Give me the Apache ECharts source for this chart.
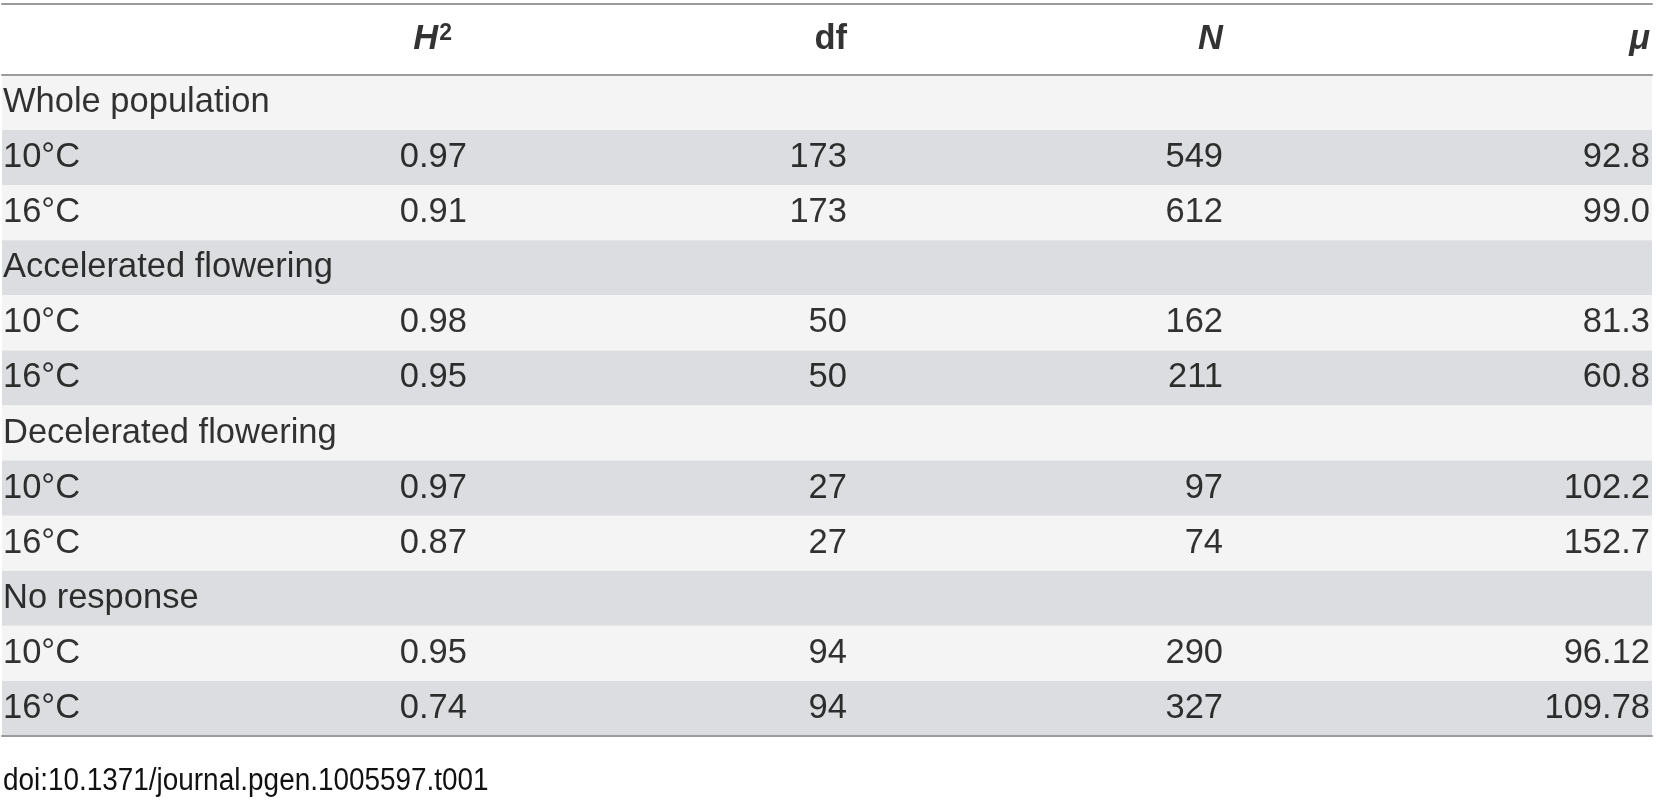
<!DOCTYPE html>
<html><head><meta charset="utf-8">
<script src="https://cdn.jsdelivr.net/npm/echarts@6/dist/echarts.min.js"></script>
<style>html,body{margin:0;padding:0;background:#fff}#c{width:1656px;height:800px}</style>
</head><body><div id="c"></div>
<script>
// ---- data ----
const rowLabels = ['Whole population','10°C','16°C','Accelerated flowering','10°C','16°C','Decelerated flowering','10°C','16°C','No response','10°C','16°C'];
const h2Values = ['', '0.97', '0.91', '', '0.98', '0.95', '', '0.97', '0.87', '', '0.95', '0.74'];
const dfValues = ['', '173', '173', '', '50', '50', '', '27', '27', '', '94', '94'];
const nValues  = ['', '549', '612', '', '162', '211', '', '97', '74', '', '290', '327'];
const muValues = ['', '92.8', '99.0', '', '81.3', '60.8', '', '102.2', '152.7', '', '96.12', '109.78'];
const headers = ['', '{it|H}{sup|2}', '{b|df}', '{it|N}', '{it|μ}'];
const caption = 'doi:10.1371/journal.pgen.1005597.t001';

// ---- layout (percent of table width) ----
const colAnchor = [0.06, 28.18, 51.21, 74.0, 99.88];
const headAnchor = [0.06, 27.27, 51.21, 74.0, 99.88];
const FONT = '"Liberation Sans", Arial, Helvetica, sans-serif';
const FS = 34.5;
const TXT = '#000';

const columns = [rowLabels, h2Values, dfValues, nValues, muValues];
const rowIdx = rowLabels.map((_, i) => i);

const series = [];
columns.forEach((col, c) => {
  series.push({
    type: 'scatter', xAxisIndex: 1, yAxisIndex: 1, symbolSize: 0, silent: true,
    data: col.map((t, i) => [colAnchor[c], i, t]).filter(d => d[2] !== ''),
    label: {
      show: true, position: c === 0 ? 'right' : 'left', distance: 0,
      formatter: p => p.data[2],
      fontFamily: FONT, fontSize: FS, color: TXT
    }
  });
});
headers.forEach((h, c) => {
  if (!h) return;
  series.push({
    type: 'scatter', xAxisIndex: 0, yAxisIndex: 0, symbolSize: 0, silent: true,
    data: [[headAnchor[c], 0, h]],
    label: {
      show: true, position: 'left', distance: 0,
      formatter: p => p.data[2],
      rich: {
        it: { fontFamily: FONT, fontSize: FS, fontWeight: 'bold', fontStyle: 'italic', color: TXT },
        b: { fontFamily: FONT, fontSize: FS, fontWeight: 'bold', color: TXT },
        sup: { fontFamily: FONT, fontSize: 23, fontWeight: 'bold', color: TXT, verticalAlign: 'top', padding: [0, 0, 6, 1] }
      }
    }
  });
});

const lineStyle = { color: '#9b9b9b', width: 2 };
const hiddenX = { show: false };
const option = {
  animation: false,
  grid: [
    { left: 2, right: 4, top: 4, height: 71 },
    { left: 2, right: 4, top: 75, bottom: 64 }
  ],
  xAxis: [
    { gridIndex: 0, type: 'value', min: 0, max: 100, position: 'top',
      axisLine: { show: true, lineStyle }, axisTick: hiddenX, axisLabel: hiddenX, splitLine: hiddenX },
    { gridIndex: 1, type: 'value', min: 0, max: 100, position: 'top',
      axisLine: { show: true, lineStyle }, axisTick: hiddenX, axisLabel: hiddenX, splitLine: hiddenX },
    { gridIndex: 1, type: 'value', min: 0, max: 100, position: 'bottom',
      axisLine: { show: true, lineStyle }, axisTick: hiddenX, axisLabel: hiddenX, splitLine: hiddenX }
  ],
  yAxis: [
    { gridIndex: 0, type: 'category', data: ['header'], axisLine: hiddenX, axisTick: hiddenX, axisLabel: hiddenX },
    { gridIndex: 1, type: 'category', data: rowIdx, inverse: true,
      axisLine: hiddenX, axisTick: hiddenX, axisLabel: hiddenX,
      splitArea: { show: true, areaStyle: { color: ['#f4f4f4', '#dcdde0'] } } }
  ],
  graphic: [{
    type: 'text', left: 3, top: 766, scaleX: 0.9,
    style: { text: caption, fontFamily: FONT, fontSize: 31, fill: '#111' }
  }],
  series
};
const chart = echarts.init(document.getElementById('c'), null, { renderer: 'canvas' });
chart.setOption(option);
</script></body></html>
